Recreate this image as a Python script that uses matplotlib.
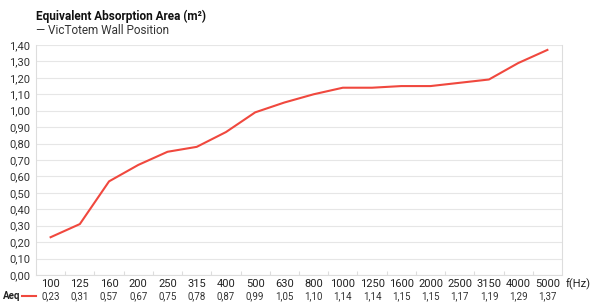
import matplotlib.pyplot as plt

freqs = ['100', '125', '160', '200', '250', '315', '400', '500', '630', '800',
         '1000', '1250', '1600', '2000', '2500', '3150', '4000', '5000']
aeq = [0.23, 0.31, 0.57, 0.67, 0.75, 0.78, 0.87, 0.99, 1.05, 1.10,
       1.14, 1.14, 1.15, 1.15, 1.17, 1.19, 1.29, 1.37]
yticks = [i / 10 for i in range(15)]

plt.rcParams['font.family'] = ['Roboto', 'DejaVu Sans']
red = '#f0483e'
grid = '#e6e6e6'

fig = plt.figure(figsize=(5.92, 3.02), dpi=100)
ax = fig.add_axes([36 / 592, 27 / 302, 526 / 592, 230 / 302])

x = list(range(len(freqs)))
ax.plot(x, aeq, color=red, lw=1.5)

ax.set_xlim(-0.5, len(freqs) - 0.5)
ax.set_ylim(0, 1.4)
ax.set_yticks(yticks)
ax.set_yticklabels([f'{v:.2f}'.replace('.', ',') for v in yticks], fontsize=8, color='#333333')
ax.yaxis.grid(True, color=grid, lw=0.8)
ax.set_axisbelow(True)
ax.tick_params(axis='y', length=0, pad=4)

ax.set_xticks([i + 0.5 for i in x[:-1]])
ax.set_xticklabels([])
ax.tick_params(axis='x', direction='in', length=3, color='#dddddd')

ax.spines['top'].set_visible(False)
for side in ['left', 'right', 'bottom']:
    ax.spines[side].set_color('#dddddd')
    ax.spines[side].set_linewidth(0.8)

# category row and value row
for i, f in enumerate(freqs):
    ax.annotate(f, (i, 0), xycoords='data', xytext=(0, -9), textcoords='offset pixels',
                ha='center', va='center', fontsize=8, color='#222222')
    ax.annotate(f'{aeq[i]:.2f}'.replace('.', ','), (i, 0), xycoords='data', xytext=(0, -21),
                textcoords='offset pixels', ha='center', va='center', fontsize=7, color='#333333')

fig.text(578 / 592, 1 - 284 / 302, 'f(Hz)', ha='center', va='center', fontsize=8, color='#222222')
fig.text(3 / 592, 1 - 296 / 302, 'Aeq', ha='left', va='center', fontsize=7, fontweight='bold', color='#222222')
fig.lines.append(plt.Line2D([22 / 592, 36 / 592], [1 - 296 / 302, 1 - 296 / 302],
                            transform=fig.transFigure, color=red, lw=1.5))

fig.text(36 / 592, 1 - 16 / 302, 'Equivalent Absorption Area (m²)', ha='left', va='center',
         fontsize=8.5, fontweight='bold', color='#111111')
fig.text(36 / 592, 1 - 31 / 302, '— VicTotem Wall Position', ha='left', va='center',
         fontsize=8.5, color='#333333')

fig.savefig('out.png', dpi=100, facecolor='white')
